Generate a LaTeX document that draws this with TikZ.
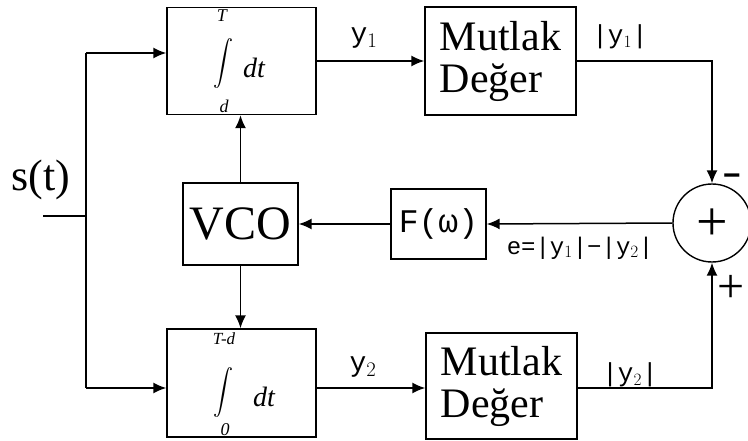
\documentclass[tikz,border=0pt]{standalone}
\usepackage{fontspec}
\setmainfont{Liberation Serif}
\newfontfamily\monof{Liberation Mono}
\newfontfamily\boldsans{Liberation Sans}
\usetikzlibrary{arrows.meta}
\begin{document}
\begin{tikzpicture}[x=1pt,y=-1pt,
  box/.style={draw,line width=1.4pt,inner sep=0pt,rectangle},
  wire/.style={line width=1.5pt},
  arr/.style={wire,-{Latex[length=13pt,width=11pt]}},
  lbl/.style={inner sep=0pt},
  fs/.style={font=\fontsize{#1}{#1}\selectfont},
  mfs/.style={font=\monof\fontsize{#1}{#1}\selectfont},
  intg/.style={inner sep=0pt}]
\useasboundingbox (0,0) rectangle (748,441);
% boxes
\node[box,minimum width=149pt,minimum height=107pt] (int1) at (241.5,61) {};
\node[box,minimum width=149pt,minimum height=108pt] (int2) at (241.5,383) {};
\node[box,minimum width=151pt,minimum height=108pt,align=left,fs=42] (abs1) at (500.5,61) {Mutlak\\Değer};
\node[box,minimum width=151pt,minimum height=106pt,align=left,fs=42] (abs2) at (501.5,386) {Mutlak\\Değer};
\node[box,minimum width=115pt,minimum height=82pt,fs=48] (vco) at (240.5,224) {VCO};
\node[box,minimum width=95pt,minimum height=70pt,mfs=33] (F) at (438.5,224) {F(ω)};
\node[draw,circle,line width=1.4pt,minimum size=78pt,inner sep=0pt] (sum) at (712,223) {};
% integral contents
\node[intg] (i1) at (223,64) {\resizebox*{20pt}{50pt}{$\displaystyle\int$}};
\node[lbl,fs=18] (t1) at (222,16) {\itshape T};
\node[lbl,fs=18] (d1) at (224,106) {\itshape d};
\node[lbl,fs=28] (dt1) at (254,68) {\itshape dt};
\node[intg] (i2) at (223,393) {\resizebox*{20pt}{50pt}{$\displaystyle\int$}};
\node[lbl,fs=17] (t2) at (224,339) {\itshape T-d};
\node[lbl,fs=18] (z2) at (225,430) {\itshape 0};
\node[lbl,fs=28] (dt2) at (264,397) {\itshape dt};
\node[lbl,fs=56] (plusin) at (712,225) {+};
% labels
\node[lbl,fs=44] (st) at (41,180) {s(t)};
\node[lbl,mfs=28] (y1) at (364,38) {y$_1$};
\node[lbl,mfs=28] (y2) at (363,367) {y$_2$};
\node[lbl,mfs=26] (ay1) at (620,37) {|y$_1$|};
\node[lbl,mfs=26] (ay2) at (630,375) {|y$_2$|};
\node[lbl,mfs=24] (el) at (580,248) {e=|y$_1$|−|y$_2$|};
\node[lbl,font=\boldsans\bfseries\fontsize{30}{30}\selectfont] (mn) at (732,180) {−};
\node[lbl,fs=48] (pl) at (731,289) {+};
% connectors
\coordinate (sin) at (43,216);
\coordinate (jn) at (86,216);
\coordinate (jt) at (86,53);
\coordinate (jb) at (86,388);
\draw[wire] (sin) -- (jn);
\draw[wire] (jt) -- (jb);
\draw[arr] (jt) -- (jt -| int1.west);
\draw[arr] (jb) -- (jb -| int2.west);
\draw[arr] (int1.east) -- (abs1.west);
\draw[arr] (jb -| int2.east) -- (jb -| abs2.west);
\draw[arr] (abs1.east) -- (abs1.east -| sum.north) -- (sum.north);
\draw[arr] (jb -| abs2.east) -- (jb -| sum.south) -- (sum.south);
\draw[arr] (sum.west) -- (F.east);
\draw[arr] (F.west) -- (vco.east);
\draw[arr] (vco.north) -- (int1.south -| vco.north);
\draw[arr] (vco.south) -- (int2.north -| vco.south);
\end{tikzpicture}
\end{document}
